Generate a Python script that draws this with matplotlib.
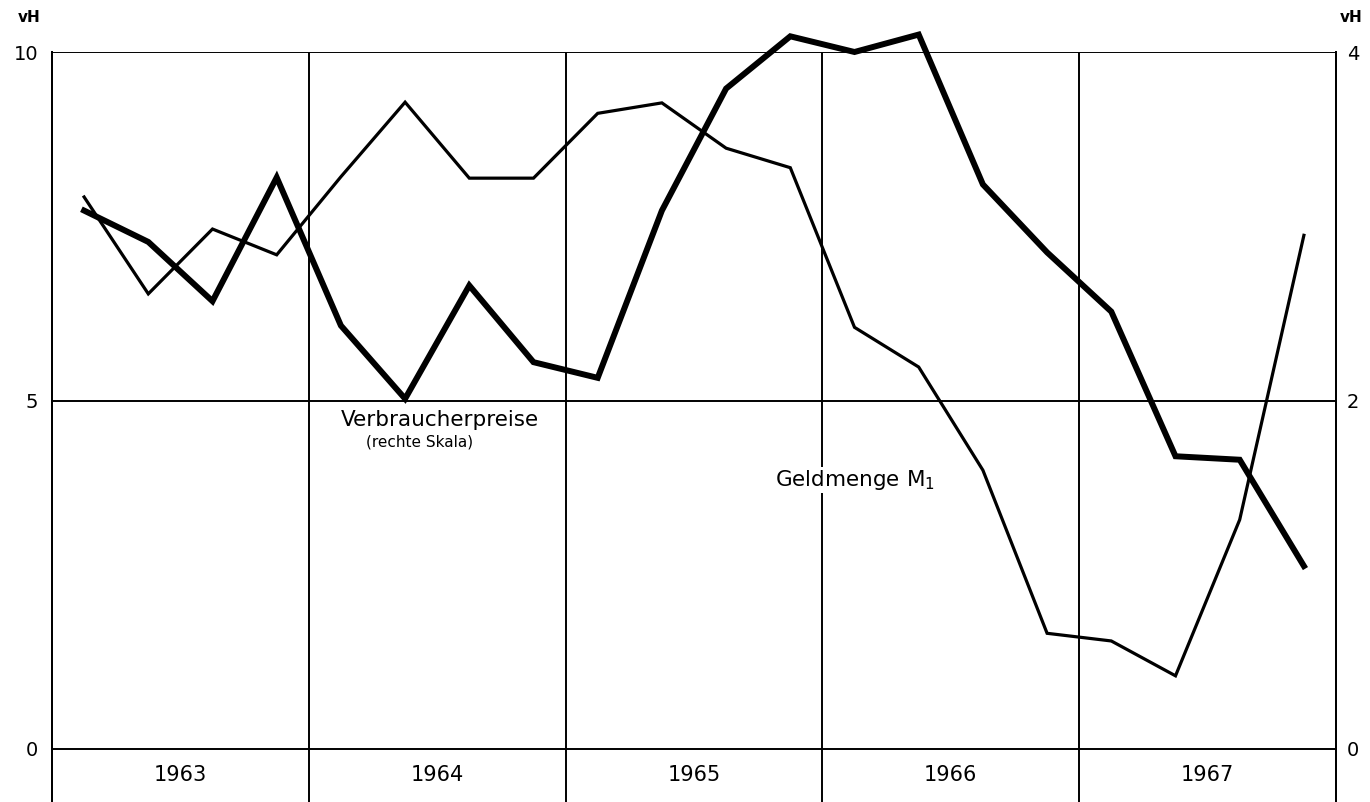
import numpy as np
import matplotlib
matplotlib.use("Agg")
import matplotlib.pyplot as plt

plt.rcParams['font.family'] = ['DejaVu Sans']

years = ["1963", "1964", "1965", "1966", "1967"]
quarters_per_year = 4

# Geldmenge M1 (left scale, vH)
geldmenge = [7.92, 6.53, 7.46, 7.09, 8.21, 9.28, 8.19, 8.19, 9.12, 9.27,
             8.62, 8.34, 6.05, 5.48, 4.00, 1.66, 1.55, 1.05, 3.29, 7.37]
# Verbraucherpreise (right scale, vH)
verbraucherpreise = [3.09, 2.91, 2.57, 3.28, 2.43, 2.01, 2.66, 2.22, 2.13, 3.09,
                     3.79, 4.09, 4.00, 4.10, 3.24, 2.85, 2.51, 1.68, 1.66, 1.05]

left_ticks = [0, 5, 10]
right_ticks = [0, 2, 4]

W, H = 1370, 802
fig = plt.figure(figsize=(W / 100, H / 100), dpi=100)
ax = fig.add_axes([52 / W, 0.0, (1336 - 52) / W, 1 - 52 / H])

n = len(geldmenge)
x = np.arange(n) + 0.5
ymin = -53 / 69.7
ax.set_xlim(0, n)
ax.set_ylim(ymin, 10)

lw_grid = 1.4
# horizontal grid
for v in left_ticks:
    ax.axhline(v, color='black', lw=lw_grid, zorder=1)
# vertical grid at year boundaries
for k in range(1, len(years)):
    ax.axvline(k * quarters_per_year, color='black', lw=lw_grid, zorder=1)

ax.plot(x, geldmenge, color='black', lw=2.3, solid_joinstyle='miter', zorder=3,
        clip_on=False)

ax2 = ax.twinx()
ax2.set_ylim(ymin * 0.4, 4)
ax2.plot(x, verbraucherpreise, color='black', lw=4.3, solid_joinstyle='miter',
         zorder=3, clip_on=False)

for a in (ax, ax2):
    a.spines['bottom'].set_visible(False)
    a.spines['top'].set_visible(False)
    for s in ('left', 'right'):
        a.spines[s].set_linewidth(lw_grid)
    a.set_xticks([])

ax.set_yticks(left_ticks)
ax.set_yticklabels([str(t) for t in left_ticks])
ax.tick_params(axis='y', length=0, pad=10, labelsize=14)
ax2.set_yticks(right_ticks)
ax2.set_yticklabels([str(t) for t in right_ticks])
ax2.tick_params(axis='y', length=0, pad=8, labelsize=14)

# year labels
for k, yr in enumerate(years):
    ax.text(k * quarters_per_year + quarters_per_year / 2, -0.38, yr,
            ha='center', va='center', fontsize=15)

ax.text(6.04, 4.72, "Verbraucherpreise", ha='center', va='center', fontsize=15.5)
ax.text(5.72, 4.40, "(rechte Skala)", ha='center', va='center', fontsize=11)
ax.text(11.26, 3.86, "Geldmenge M$_1$", ha='left', va='center', fontsize=15.5,
        zorder=2, bbox=dict(facecolor='white', edgecolor='none', pad=1))

fig.text(18 / W, 1 - 18 / H, "vH", ha='left', va='center', fontsize=11, fontweight='bold')
fig.text(1340 / W, 1 - 18 / H, "vH", ha='left', va='center', fontsize=11, fontweight='bold')

fig.savefig("out.png", dpi=100)
